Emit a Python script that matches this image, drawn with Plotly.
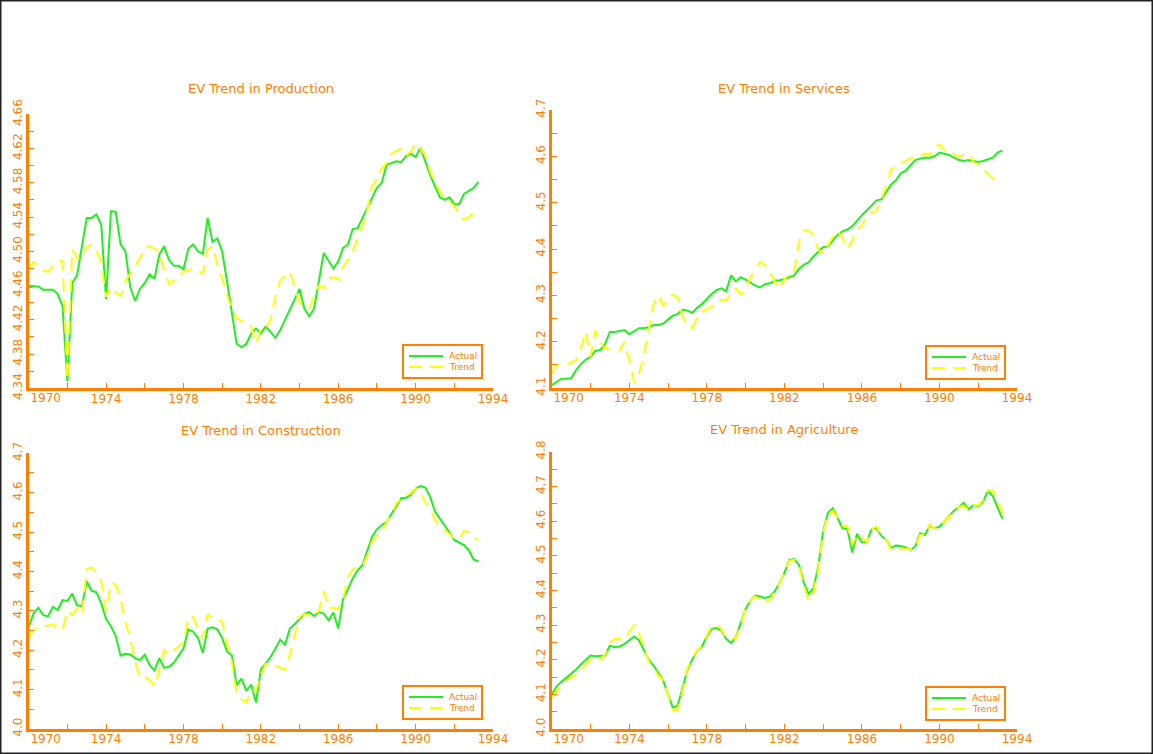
import numpy as np
import plotly.graph_objects as go

# Quarterly observations, 1970Q1 .. 1993Q2
quarters = 1970 + np.arange(94) * 0.25

production_actual = [
    4.458, 4.459, 4.459, 4.455,
    4.455, 4.455, 4.450, 4.436,
    4.348, 4.463, 4.472, 4.508,
    4.539, 4.539, 4.543, 4.531,
    4.444, 4.547, 4.546, 4.508,
    4.500, 4.458, 4.442, 4.456,
    4.463, 4.473, 4.468, 4.496,
    4.506, 4.490, 4.483, 4.483,
    4.479, 4.503, 4.508, 4.500,
    4.497, 4.539, 4.511, 4.515,
    4.500, 4.465, 4.426, 4.392,
    4.388, 4.392, 4.404, 4.410,
    4.404, 4.412, 4.406, 4.399,
    4.408, 4.420, 4.430, 4.443,
    4.456, 4.433, 4.424, 4.433,
    4.465, 4.498, 4.489, 4.480,
    4.488, 4.504, 4.508, 4.526,
    4.527, 4.539, 4.552, 4.563,
    4.574, 4.580, 4.601, 4.603,
    4.605, 4.604, 4.611, 4.614,
    4.610, 4.621, 4.605, 4.589,
    4.576, 4.563, 4.560, 4.563,
    4.555, 4.555, 4.567, 4.571,
    4.574, 4.581,
]
production_trend = [
    4.480, 4.488, 4.483, 4.478,
    4.476, 4.483, 4.487, 4.489,
    4.350, 4.502, 4.492, 4.491,
    4.505, 4.508, 4.500, 4.488,
    4.447, 4.458, 4.452, 4.448,
    4.465, 4.474, 4.482, 4.492,
    4.503, 4.506, 4.503, 4.500,
    4.478, 4.462, 4.466, 4.470,
    4.476, 4.478, 4.480, 4.477,
    4.474, 4.502, 4.506, 4.485,
    4.468, 4.450, 4.432, 4.422,
    4.418, 4.415, 4.412, 4.392,
    4.410, 4.410, 4.420, 4.447,
    4.466, 4.472, 4.476, 4.457,
    4.440, 4.436, 4.433, 4.448,
    4.460, 4.457, 4.468, 4.470,
    4.467, 4.482, 4.490, 4.500,
    4.515, 4.530, 4.548, 4.576,
    4.585, 4.597, 4.603, 4.614,
    4.617, 4.620, 4.612, 4.616,
    4.626, 4.620, 4.612, 4.593,
    4.580, 4.570, 4.562, 4.558,
    4.553, 4.543, 4.537, 4.540,
    4.545, 4.548,
]

services_actual = [
    4.106, 4.113, 4.120, 4.120,
    4.121, 4.138, 4.151, 4.161,
    4.167, 4.180, 4.182, 4.195,
    4.221, 4.221, 4.223, 4.225,
    4.216, 4.222, 4.229, 4.229,
    4.231, 4.236, 4.236, 4.239,
    4.247, 4.256, 4.260, 4.269,
    4.267, 4.262, 4.273, 4.281,
    4.292, 4.303, 4.311, 4.315,
    4.309, 4.343, 4.330, 4.339,
    4.334, 4.327, 4.321, 4.317,
    4.324, 4.326, 4.332, 4.332,
    4.335, 4.339, 4.343, 4.357,
    4.366, 4.371, 4.384, 4.393,
    4.404, 4.406, 4.418, 4.431,
    4.438, 4.442, 4.449, 4.462,
    4.473, 4.483, 4.494, 4.505,
    4.507, 4.523, 4.539, 4.548,
    4.563, 4.569, 4.581, 4.592,
    4.595, 4.597, 4.597, 4.600,
    4.608, 4.606, 4.603, 4.597,
    4.592, 4.590, 4.592, 4.590,
    4.588, 4.590, 4.593, 4.597,
    4.608, 4.613,
]
services_trend = [
    4.131, 4.150, 4.152, 4.150,
    4.155, 4.160, 4.185, 4.222,
    4.168, 4.224, 4.200, 4.185,
    4.183, 4.182, 4.181, 4.200,
    4.160, 4.112, 4.130, 4.170,
    4.225, 4.280, 4.300, 4.278,
    4.290, 4.302, 4.295, 4.255,
    4.232, 4.230, 4.250, 4.265,
    4.270, 4.275, 4.288, 4.290,
    4.290, 4.305, 4.315, 4.302,
    4.312, 4.340, 4.355, 4.372,
    4.365, 4.350, 4.330, 4.315,
    4.335, 4.345, 4.345, 4.415,
    4.440, 4.440, 4.430, 4.398,
    4.390, 4.408, 4.426, 4.440,
    4.422, 4.400, 4.418, 4.443,
    4.450, 4.473, 4.478, 4.483,
    4.508, 4.534, 4.572, 4.578,
    4.585, 4.590, 4.596, 4.598,
    4.600, 4.606, 4.603, 4.620,
    4.626, 4.613, 4.615, 4.605,
    4.599, 4.603, 4.606, 4.588,
    4.583, 4.570, 4.563, 4.552,
    4.550, 4.548,
]

construction_actual = [
    4.259, 4.293, 4.308, 4.289,
    4.286, 4.310, 4.302, 4.327,
    4.325, 4.344, 4.314, 4.312,
    4.375, 4.351, 4.347, 4.319,
    4.279, 4.261, 4.236, 4.186,
    4.191, 4.189, 4.180, 4.175,
    4.189, 4.162, 4.149, 4.180,
    4.155, 4.158, 4.168, 4.186,
    4.204, 4.253, 4.247, 4.231,
    4.193, 4.255, 4.258, 4.253,
    4.231, 4.197, 4.187, 4.111,
    4.128, 4.097, 4.113, 4.067,
    4.152, 4.166, 4.183, 4.204,
    4.227, 4.214, 4.255, 4.266,
    4.280, 4.293, 4.297, 4.287,
    4.297, 4.293, 4.276, 4.296,
    4.255, 4.330, 4.355, 4.382,
    4.403, 4.416, 4.452, 4.488,
    4.507, 4.518, 4.526, 4.545,
    4.564, 4.586, 4.587, 4.594,
    4.611, 4.617, 4.613, 4.590,
    4.552, 4.535, 4.518, 4.499,
    4.480, 4.474, 4.467, 4.454,
    4.430, 4.426,
]
construction_trend = [
    4.232, 4.252, 4.257, 4.260,
    4.263, 4.266, 4.255, 4.252,
    4.300, 4.290, 4.305, 4.290,
    4.405, 4.410, 4.398, 4.375,
    4.300, 4.372, 4.366, 4.330,
    4.270, 4.230, 4.170, 4.130,
    4.132, 4.125, 4.108, 4.150,
    4.200, 4.190, 4.200, 4.210,
    4.220, 4.283, 4.285, 4.255,
    4.230, 4.292, 4.280, 4.276,
    4.273, 4.215, 4.170, 4.090,
    4.075, 4.068, 4.098, 4.098,
    4.140, 4.165, 4.168, 4.162,
    4.155, 4.150, 4.190, 4.236,
    4.285, 4.292, 4.288, 4.290,
    4.300, 4.350, 4.308, 4.308,
    4.305, 4.330, 4.385, 4.405,
    4.412, 4.415, 4.440, 4.478,
    4.490, 4.500, 4.526, 4.550,
    4.572, 4.586, 4.594, 4.598,
    4.612, 4.600, 4.575, 4.560,
    4.530, 4.513, 4.505, 4.495,
    4.484, 4.482, 4.503, 4.500,
    4.484, 4.480,
]

agriculture_actual = [
    4.099, 4.123, 4.136, 4.147,
    4.159, 4.171, 4.186, 4.198,
    4.212, 4.210, 4.210, 4.212,
    4.240, 4.236, 4.238, 4.245,
    4.256, 4.267, 4.256, 4.229,
    4.200, 4.183, 4.160, 4.140,
    4.099, 4.061, 4.068, 4.123,
    4.171, 4.200, 4.227, 4.238,
    4.267, 4.289, 4.291, 4.284,
    4.260, 4.248, 4.265, 4.306,
    4.346, 4.371, 4.385, 4.382,
    4.378, 4.382, 4.397, 4.421,
    4.450, 4.488, 4.490, 4.474,
    4.423, 4.390, 4.406, 4.469,
    4.570, 4.624, 4.637, 4.608,
    4.579, 4.577, 4.509, 4.563,
    4.538, 4.539, 4.577, 4.579,
    4.557, 4.546, 4.522, 4.529,
    4.528, 4.524, 4.517, 4.526,
    4.565, 4.560, 4.587, 4.579,
    4.584, 4.598, 4.615, 4.630,
    4.640, 4.653, 4.634, 4.646,
    4.643, 4.656, 4.687, 4.672,
    4.639, 4.606,
]
agriculture_trend = [
    4.092, 4.110, 4.125, 4.140,
    4.150, 4.155, 4.165, 4.185,
    4.200, 4.200, 4.200, 4.215,
    4.248, 4.260, 4.260, 4.258,
    4.280, 4.300, 4.275, 4.235,
    4.195, 4.175, 4.155, 4.140,
    4.100, 4.055, 4.055, 4.110,
    4.175, 4.205, 4.228, 4.240,
    4.270, 4.298, 4.300, 4.288,
    4.262, 4.262, 4.262, 4.300,
    4.345, 4.372, 4.382, 4.372,
    4.365, 4.372, 4.395, 4.420,
    4.450, 4.485, 4.488, 4.470,
    4.415, 4.370, 4.395, 4.460,
    4.565, 4.620, 4.630, 4.608,
    4.586, 4.586, 4.530, 4.562,
    4.550, 4.540, 4.575, 4.585,
    4.560, 4.545, 4.518, 4.517,
    4.518, 4.520, 4.518, 4.522,
    4.560, 4.560, 4.590, 4.578,
    4.580, 4.598, 4.612, 4.626,
    4.640, 4.645, 4.632, 4.646,
    4.645, 4.660, 4.688, 4.690,
    4.660, 4.620,
]

year_ticks = [1970, 1974, 1978, 1982, 1986, 1990, 1994]
year_labels = ["1970", "1974", "1978", "1982", "1986", "1990", "1994"]
series_names = ["Actual", "Trend"]

ORANGE = "#FF8000"
GREEN = "#22EE22"
YELLOW = "#FFFF00"
FONT = "DejaVu Sans"
ACTUAL_LINE = dict(color=GREEN, width=2)
TREND_LINE = dict(color=YELLOW, width=2, dash="13px,8px")

W, H = 1153, 754


def px(x):
    return x / W


def py(y):
    return 1 - y / H


# panel layout: title, series, y-range, label step, minor step, label format,
# plot box in pixels [left, right, top, bottom], title centre y, key box [left, top]
panels = [
    ("EV Trend in Production", production_actual, production_trend,
     (4.34, 4.66), 0.04, 0.02, ".2f", (28.7, 493, 114.3, 388.3), 89, (403, 345)),
    ("EV Trend in Services", services_actual, services_trend,
     (4.1, 4.7), 0.1, 0.05, ".1f", (551.7, 1017, 110, 388), 88, (926, 346)),
    ("EV Trend in Construction", construction_actual, construction_trend,
     (4.0, 4.7), 0.1, 0.05, ".1f", (28.7, 493, 453.3, 729), 430, (403, 686)),
    ("EV Trend in Agriculture", agriculture_actual, agriculture_trend,
     (4.0, 4.8), 0.1, 0.05, ".1f", (551.7, 1017, 451.7, 729), 429, (926, 687)),
]

fig = go.Figure()
annotations = []
shapes = []
tick_font = dict(family=FONT, size=12, color=ORANGE)

for k, (title, actual, trend, yr, step, mstep, fmt, box, title_y, leg) in enumerate(panels):
    n = k + 1
    xa = "x" if n == 1 else f"x{n}"
    ya = "y" if n == 1 else f"y{n}"
    fig.add_trace(go.Scatter(x=quarters, y=actual, mode="lines", name=series_names[0],
                             line=ACTUAL_LINE, xaxis=xa, yaxis=ya))
    fig.add_trace(go.Scatter(x=quarters, y=trend, mode="lines", name=series_names[1],
                             line=TREND_LINE, xaxis=xa, yaxis=ya))

    left, right, top, bottom = box
    axis_common = dict(
        showgrid=False, zeroline=False, showline=True, linecolor=ORANGE, linewidth=3,
        ticks="inside", ticklen=5, tickwidth=1, tickcolor=ORANGE,
        tickfont=tick_font, ticklabeloverflow="allow",
    )
    fig.update_layout({
        ("xaxis" if n == 1 else f"xaxis{n}"): dict(
            domain=[px(left), px(right)], range=[1970, 1994], anchor=ya,
            tickmode="array", tickvals=year_ticks,
            ticktext=[""] + year_labels[1:],
            minor=dict(ticks="inside", tick0=1970, dtick=2, ticklen=5,
                       tickcolor=ORANGE, tickwidth=1),
            ticklabelstandoff=-3,
            **axis_common),
        # companion axis carrying only the first year label, nudged clear of the corner
        f"xaxis{n + 4}": dict(
            domain=[px(left), px(right)], range=[1970, 1994], anchor=ya,
            overlaying=xa, side="bottom",
            tickmode="array", tickvals=year_ticks[:1], ticktext=year_labels[:1],
            showgrid=False, zeroline=False, showline=False, ticks="",
            tickfont=tick_font, ticklabelshift=17, ticklabelstandoff=1,
            ticklabeloverflow="allow",
        ),
        ("yaxis" if n == 1 else f"yaxis{n}"): dict(
            domain=[py(bottom), py(top)], range=list(yr), anchor=xa,
            tick0=yr[0], dtick=step, tickformat=fmt, tickangle=-90,
            minor=dict(ticks="inside", tick0=yr[0], dtick=mstep, ticklen=5,
                       tickcolor=ORANGE, tickwidth=1),
            ticklabelstandoff=-1,
            **axis_common),
    })
    annotations.append(dict(
        text=title, xref="paper", yref="paper",
        x=px((left + right) / 2), y=py(title_y),
        xanchor="center", yanchor="middle", showarrow=False,
        font=dict(family=FONT, size=13, color=ORANGE),
    ))

    # key box with a sample of each line style
    lx, ly = leg
    shapes.append(dict(type="rect", xref="paper", yref="paper",
                       x0=px(lx), x1=px(lx + 79), y0=py(ly + 33), y1=py(ly),
                       line=dict(color=ORANGE, width=2)))
    for row, (name, style) in enumerate(zip(series_names, [ACTUAL_LINE, TREND_LINE])):
        yy = ly + 11 + row * 11
        shapes.append(dict(type="line", xref="paper", yref="paper",
                           x0=px(lx + 6), x1=px(lx + 40), y0=py(yy), y1=py(yy),
                           line=style))
        annotations.append(dict(
            text=name, xref="paper", yref="paper", x=px(lx + 44), y=py(yy),
            xanchor="left", yanchor="middle", showarrow=False,
            font=dict(family=FONT, size=9, color=ORANGE),
        ))

    # an invisible point keeps the companion axis drawn
    fig.add_trace(go.Scatter(x=[quarters[0]], y=[actual[0]], mode="markers",
                             marker=dict(opacity=0), hoverinfo="skip",
                             xaxis=f"x{n + 4}", yaxis=ya, showlegend=False))

shapes.append(dict(type="rect", xref="paper", yref="paper", x0=0, y0=0, x1=1, y1=1,
                   line=dict(color="#222222", width=3), fillcolor="rgba(0,0,0,0)"))

fig.update_layout(
    width=W, height=H,
    margin=dict(l=0, r=0, t=0, b=0, autoexpand=False),
    paper_bgcolor="white", plot_bgcolor="white",
    showlegend=False,
    annotations=annotations,
    shapes=shapes,
)

fig.write_html("out.html")
